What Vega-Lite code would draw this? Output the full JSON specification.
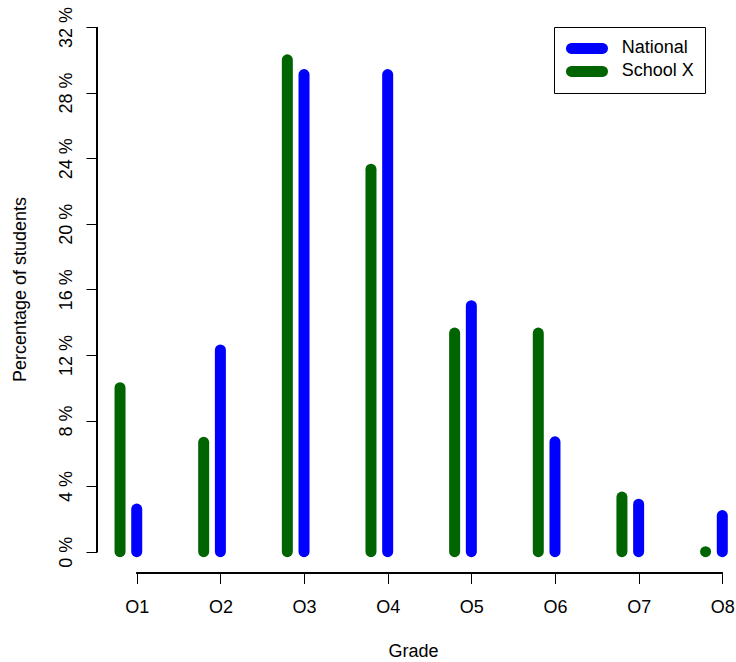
{
  "$schema": "https://vega.github.io/schema/vega-lite/v6.json",
  "autosize": {"type": "none"},
  "padding": {"left": 97, "top": 27, "right": 0, "bottom": 89},
  "width": 639,
  "height": 546,
  "background": "white",
  "config": {"view": {"stroke": null}, "font": "Liberation Sans"},
  "datasets": {
    "grades": [
      {"grade": 1, "group": "National", "pct": 2.6},
      {"grade": 2, "group": "National", "pct": 12.3},
      {"grade": 3, "group": "National", "pct": 29.1},
      {"grade": 4, "group": "National", "pct": 29.1},
      {"grade": 5, "group": "National", "pct": 15.0},
      {"grade": 6, "group": "National", "pct": 6.7},
      {"grade": 7, "group": "National", "pct": 2.9},
      {"grade": 8, "group": "National", "pct": 2.2},
      {"grade": 1, "group": "School X", "pct": 10.0},
      {"grade": 2, "group": "School X", "pct": 6.67},
      {"grade": 3, "group": "School X", "pct": 30.0},
      {"grade": 4, "group": "School X", "pct": 23.33},
      {"grade": 5, "group": "School X", "pct": 13.33},
      {"grade": 6, "group": "School X", "pct": 13.33},
      {"grade": 7, "group": "School X", "pct": 3.33},
      {"grade": 8, "group": "School X", "pct": 0}
    ]
  },
  "data": {"name": "grades"},
  "layer": [
    {
      "transform": [{"filter": "datum.group === 'School X'"}],
      "mark": {"type": "rule", "strokeWidth": 11, "strokeCap": "round", "xOffset": -16.7},
      "encoding": {
        "x": {
          "field": "grade", "type": "quantitative",
          "scale": {"domain": [0.525, 8.164], "nice": false, "zero": false},
          "axis": {
            "values": [1, 2, 3, 4, 5, 6, 7, 8],
            "labelExpr": "'O' + datum.value",
            "domain": false, "grid": false,
            "tickSize": 10.5, "tickColor": "black",
            "labelFontSize": 18, "labelColor": "black",
            "labelBaseline": "alphabetic", "labelPadding": 28.5,
            "title": "Grade", "titleFontSize": 18, "titleFontWeight": "normal",
            "titleColor": "black", "titleX": 316, "titleY": 83,
            "titleAlign": "center", "titleBaseline": "alphabetic"
          }
        },
        "y": {
          "field": "pct", "type": "quantitative",
          "scale": {"domain": [-1.3, 32], "nice": false, "zero": false},
          "axis": {
            "values": [0, 2, 4, 6, 8, 10, 12, 14, 16, 18, 20, 22, 24, 26, 28, 30, 32],
            "labelExpr": "datum.value % 4 === 0 ? datum.value + ' %' : ''",
            "domain": false, "grid": false,
            "tickSize": 11, "tickColor": "black",
            "labelFontSize": 18, "labelColor": "black",
            "labelAngle": -90, "labelAlign": "center", "labelBaseline": "alphabetic",
            "labelPadding": 14.3,
            "title": "Percentage of students", "titleFontSize": 18, "titleFontWeight": "normal",
            "titleColor": "black", "titleAngle": -90, "titleX": -72, "titleY": 262,
            "titleAlign": "center", "titleBaseline": "alphabetic"
          }
        },
        "y2": {"datum": 0},
        "color": {
          "field": "group", "type": "nominal",
          "scale": {"domain": ["National", "School X"], "range": ["#0000ff", "#006400"]},
          "legend": {
            "title": null, "orient": "none", "legendX": 457, "legendY": 0,
            "direction": "vertical",
            "strokeColor": "black", "fillColor": "white", "padding": 10.25, "cornerRadius": 0,
            "symbolType": "stroke", "symbolStrokeWidth": 11, "symbolSize": 961,
            "symbolOffset": 1.75, "clipHeight": 22.3,
            "labelFontSize": 18, "labelColor": "black", "labelOffset": 13.8,
            "rowPadding": 0,
            "encode": {
              "symbols": {"update": {"strokeCap": {"value": "round"}, "strokeJoin": {"value": "round"}}},
              "entries": {"update": {"clip": {"value": true}, "width": {"value": 130}, "height": {"value": 22.3}}}
            }
          }
        }
      }
    },
    {
      "transform": [{"filter": "datum.group === 'National'"}],
      "mark": {"type": "rule", "strokeWidth": 11, "strokeCap": "round"},
      "encoding": {
        "x": {"field": "grade", "type": "quantitative"},
        "y": {"field": "pct", "type": "quantitative"},
        "y2": {"datum": 0},
        "color": {"field": "group", "type": "nominal"}
      }
    },
    {
      "mark": {"type": "rule", "color": "black", "strokeWidth": 1},
      "encoding": {
        "x": {"datum": 1, "type": "quantitative"},
        "x2": {"datum": 8},
        "y": {"value": "height"}
      }
    },
    {
      "mark": {"type": "rule", "color": "black", "strokeWidth": 1},
      "encoding": {
        "x": {"value": 0},
        "y": {"datum": 0, "type": "quantitative"},
        "y2": {"datum": 32}
      }
    }
  ]
}
